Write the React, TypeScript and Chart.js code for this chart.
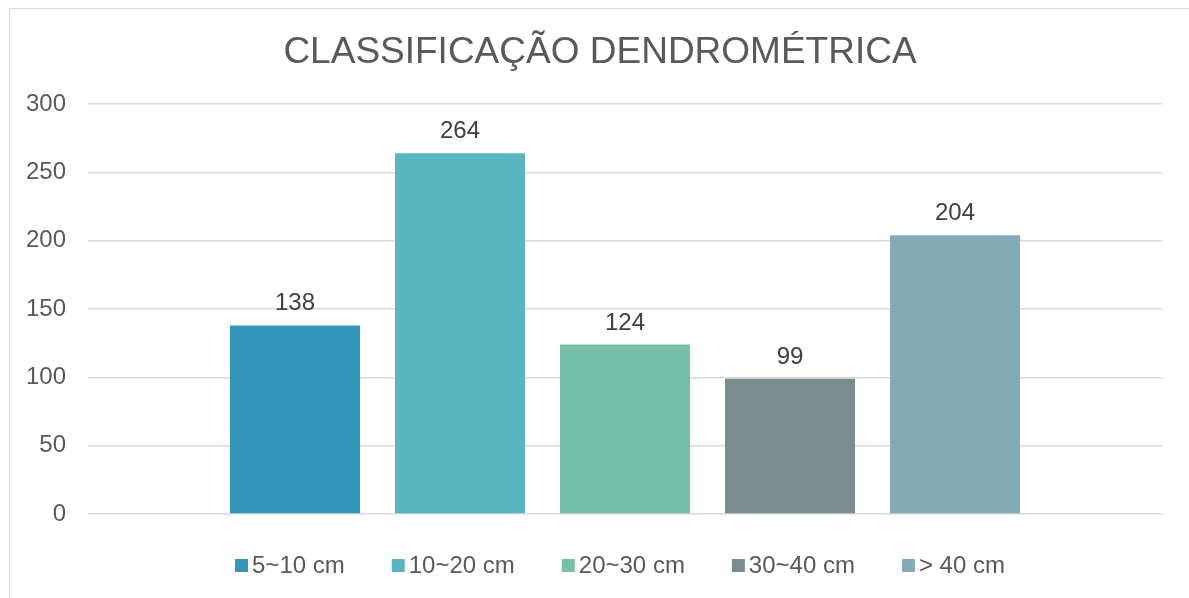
import React, { useEffect, useRef } from "react";
import { Chart, registerables } from "chart.js";

Chart.register(...registerables);

const TITLE = "CLASSIFICAÇÃO DENDROMÉTRICA";
const categories = [""];
const seriesLabels = ["5~10 cm", "10~20 cm", "20~30 cm", "30~40 cm", "> 40 cm"];
const seriesValues = [138, 264, 124, 99, 204];
const seriesColors = ["#3595BB", "#59B6BF", "#76BFA8", "#7A8C8E", "#84ABB5"];
const yTicks = [0, 50, 100, 150, 200, 250, 300];

const FONT = '"Liberation Sans", Arial, sans-serif';

const decorPlugin = {
  id: "decor",
  afterDatasetsDraw(chart: any) {
    const ctx = chart.ctx;
    ctx.save();
    // data labels
    ctx.font = `24px ${FONT}`;
    ctx.fillStyle = "#404040";
    ctx.textAlign = "center";
    ctx.textBaseline = "alphabetic";
    chart.data.datasets.forEach((ds: any, i: number) => {
      const meta = chart.getDatasetMeta(i);
      meta.data.forEach((bar: any, j: number) => {
        ctx.fillText(String(ds.data[j]), bar.x, bar.y - 15);
      });
    });
    // title
    ctx.font = `37px ${FONT}`;
    ctx.fillStyle = "#595959";
    ctx.fillText(TITLE, 600, 63);
    // legend
    ctx.font = `24px ${FONT}`;
    ctx.textAlign = "left";
    const box = 13;
    const gapText = 4;
    const gapItem = 47;
    const widths = chart.data.datasets.map(
      (ds: any) => box + gapText + ctx.measureText(ds.label).width
    );
    const total =
      widths.reduce((a: number, b: number) => a + b, 0) +
      gapItem * (widths.length - 1);
    let x = 620 - total / 2;
    chart.data.datasets.forEach((ds: any, i: number) => {
      ctx.fillStyle = ds.backgroundColor;
      ctx.fillRect(x, 559, box, box);
      ctx.fillStyle = "#595959";
      ctx.fillText(ds.label, x + box + gapText, 573);
      x += widths[i] + gapItem;
    });
    ctx.restore();
  },
};

export default function App() {
  const ref = useRef<HTMLCanvasElement | null>(null);

  useEffect(() => {
    if (!ref.current) return;
    const chart = new Chart(ref.current, {
      type: "bar",
      data: {
        labels: categories,
        datasets: seriesLabels.map((label, i) => ({
          label,
          data: [seriesValues[i]],
          backgroundColor: seriesColors[i],
          borderWidth: 0,
          categoryPercentage: 0.7682,
          barPercentage: 0.7879,
        })),
      },
      options: {
        animation: false,
        responsive: false,
        maintainAspectRatio: false,
        layout: { padding: { top: 104, bottom: 84, right: 27, left: 0 } },
        plugins: {
          legend: { display: false },
          title: { display: false },
          tooltip: { enabled: false },
        },
        scales: {
          x: { display: false },
          y: {
            min: 0,
            max: 300,
            afterFit: (scale: any) => {
              scale.width = 88;
            },
            afterBuildTicks: (scale: any) => {
              scale.ticks = yTicks.map((v) => ({ value: v }));
            },
            border: { display: false },
            grid: { color: "#D9D9D9", lineWidth: 1.5, drawTicks: false },
            ticks: {
              padding: 22,
              color: "#595959",
              font: { family: FONT, size: 24 },
            },
          },
        },
      },
      plugins: [decorPlugin],
    });
    return () => chart.destroy();
  }, []);

  return (
    <div>
      <div
        style={{
          position: "fixed",
          left: 9,
          top: 8,
          width: 1300,
          height: 700,
          border: "1px solid #D9D9D9",
          boxSizing: "border-box",
        }}
      />
      <div style={{ position: "fixed", left: 0, top: 0, width: 1189, height: 598 }}>
        <canvas ref={ref} width={1189} height={598} style={{ width: 1189, height: 598 }} />
      </div>
    </div>
  );
}
